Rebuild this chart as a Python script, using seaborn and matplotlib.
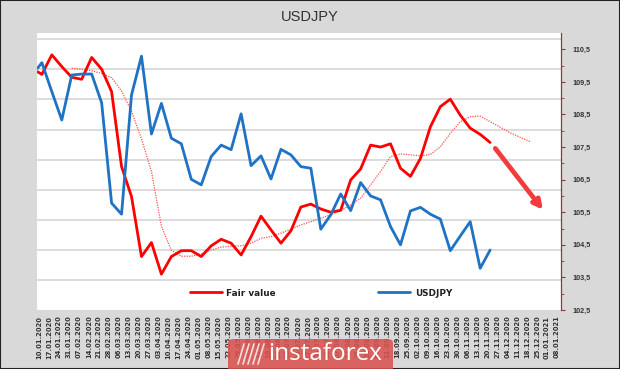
import numpy as np
import pandas as pd
import matplotlib
matplotlib.use("Agg")
import matplotlib.pyplot as plt
import matplotlib.patheffects as pe
from matplotlib.patches import FancyBboxPatch, Rectangle
from matplotlib.lines import Line2D
import seaborn as sns

sns.set_style("white")
plt.rcParams["font.family"] = ["DejaVu Sans"]

# weekly axis labels
tick_dates = pd.date_range("2020-01-10", "2021-01-08", freq="7D")

# data: first point on 09.01, then weekly (Sundays)
point_dates = pd.DatetimeIndex(["2020-01-09"]).append(
    pd.date_range("2020-01-12", periods=46, freq="7D"))

fair_value = [109.81, 109.73, 110.33, 109.97, 109.64, 109.58, 110.25, 109.89,
              109.20, 106.90, 105.98, 104.14, 104.57, 103.60, 104.14, 104.32,
              104.32, 104.14, 104.47, 104.67, 104.55, 104.19, 104.75, 105.38,
              104.96, 104.55, 104.93, 105.66, 105.75, 105.60, 105.50, 105.56,
              106.49, 106.83, 107.56, 107.50, 107.60, 106.85, 106.60, 107.15,
              108.12, 108.74, 108.97, 108.48, 108.08, 107.89, 107.64]

usdjpy = [109.92, 110.09, 109.20, 108.33, 109.71, 109.74, 109.74, 108.86,
          105.78, 105.44, 109.10, 110.29, 107.90, 108.84, 107.77, 107.60,
          106.51, 106.34, 107.21, 107.56, 107.42, 108.52, 106.93, 107.23,
          106.52, 107.43, 107.26, 106.90, 106.85, 104.98, 105.42, 106.06,
          105.55, 106.41, 106.00, 105.88, 105.06, 104.50, 105.54, 105.65,
          105.44, 105.29, 104.32, 104.77, 105.21, 103.78, 104.34]

# smoothed fair value (dotted)
ma_dates = pd.date_range("2020-02-02", periods=47, freq="7D")
fair_ma = [109.92, 109.89, 109.84, 109.76, 109.63, 109.22, 108.60, 107.75,
           106.75, 105.07, 104.33, 104.15, 104.15, 104.22, 104.34, 104.43,
           104.46, 104.47, 104.55, 104.70, 104.75, 104.86, 104.98, 105.11,
           105.21, 105.32, 105.42, 105.55, 105.72, 105.93, 106.34, 106.75,
           107.21, 107.29, 107.26, 107.23, 107.27, 107.51, 107.92, 108.28,
           108.43, 108.45, 108.28, 108.11, 107.94, 107.80, 107.67]

y_ticks = [102.5, 103.5, 104.5, 105.5, 106.5, 107.5, 108.5, 109.5, 110.5]

arrow_start = ("2020-11-25 14:00", 107.46)
arrow_end = ("2020-12-29 04:00", 105.57)

df = pd.DataFrame({"date": point_dates, "Fair value": fair_value, "USDJPY": usdjpy})
df_ma = pd.DataFrame({"date": ma_dates, "ma": fair_ma})

fig = plt.figure(figsize=(6.2, 3.69), dpi=100, facecolor="#d9d9d9")
fig.patches.append(Rectangle((0, 0), 1, 1, transform=fig.transFigure, fill=False,
                             edgecolor="#222222", linewidth=1.5))
ax = fig.add_axes([37 / 620, 1 - 310 / 369, 524 / 620, 277 / 369])
ax.set_facecolor("white")

# gridlines
for g in np.arange(1, 10) * 0.923 + 102.5:
    ax.axhline(g, color="#d9d9d9", linewidth=1.3, zorder=0)

sns.lineplot(data=df_ma, x="date", y="ma", ax=ax, color="#ff5050",
             linestyle=(0, (1, 1)), linewidth=0.9, legend=False)
sns.lineplot(data=df, x="date", y="Fair value", ax=ax, color="#ff0000",
             linewidth=2.0, label="Fair value")
sns.lineplot(data=df, x="date", y="USDJPY", ax=ax, color="#1f72c4",
             linewidth=2.0, label="USDJPY")

ax.annotate("", xy=(pd.Timestamp(arrow_end[0]), arrow_end[1]),
            xytext=(pd.Timestamp(arrow_start[0]), arrow_start[1]),
            arrowprops=dict(arrowstyle="-|>", color="#f23c3c", lw=3.4,
                            mutation_scale=13, shrinkA=0, shrinkB=0,
                            path_effects=[pe.SimplePatchShadow(offset=(1.5, -1.5), alpha=0.25),
                                          pe.Normal()]))

ax.set_ylim(102.5, 111.0)
ax.set_xlim(pd.Timestamp("2020-01-08 14:00"), pd.Timestamp("2021-01-10 19:00"))

ax.yaxis.tick_right()
ax.set_yticks(y_ticks)
ax.set_yticklabels([f"{v:.1f}".replace(".", ",") for v in y_ticks],
                   fontsize=5.2, fontweight="bold", color="#333333",
                   family=["Liberation Sans Narrow", "Liberation Sans"])
ax.set_yticks(np.arange(103, 111, 1.0), minor=True)
ax.tick_params(axis="y", which="major", direction="out", length=3, width=0.8,
               color="#8b3a3a", pad=5, right=True)
ax.tick_params(axis="y", which="minor", direction="out", length=2, width=0.6,
               color="#8b3a3a", right=True)

ax.set_xticks(tick_dates)
ax.set_xticklabels([d.strftime("%d.%m.%Y") for d in tick_dates], rotation=90,
                   fontsize=4.9, fontweight="bold", color="#333333")
ax.tick_params(axis="x", length=0, pad=4)

for s in ["left", "top", "bottom"]:
    ax.spines[s].set_visible(False)
ax.spines["right"].set_color("#8b3a3a")
ax.spines["right"].set_linewidth(0.9)
ax.set_xlabel("")
ax.set_ylabel("")

leg = ax.legend(loc="center left", bbox_to_anchor=((190 - 37) / 524, 17 / 277),
                ncol=2, frameon=False, borderpad=0, borderaxespad=0,
                handlelength=3.6, handletextpad=0.5, columnspacing=11.5,
                prop={"size": 6.4, "weight": "bold"})
for t in leg.get_texts():
    t.set_color("#222222")

fig.text(0.5, 1 - 17 / 369, "USDJPY", ha="center", va="center", fontsize=10.5,
         color="#333333", family=["Liberation Sans Narrow", "Liberation Sans"])

# watermark
fig.patches.append(FancyBboxPatch((228 / 620, -0.05), 165 / 620, (369 - 339) / 369 + 0.05,
                                  boxstyle="round,pad=0,rounding_size=0.01",
                                  transform=fig.transFigure, facecolor="#d9534f",
                                  edgecolor="none", alpha=0.88))
for i in range(5):
    x0 = (238 + i * 5) / 620
    fig.lines.append(Line2D([x0, x0 + 6 / 620], [1 - 364 / 369, 1 - 344 / 369],
                            transform=fig.transFigure, color="white",
                            linewidth=1.2, alpha=0.8))
fig.text(268 / 620, 1 - 354 / 369, "instaforex", ha="left", va="center",
         fontsize=17.5, color="white", family=["Open Sans", "DejaVu Sans"])

fig.savefig("out.png", dpi=100, facecolor=fig.get_facecolor())
